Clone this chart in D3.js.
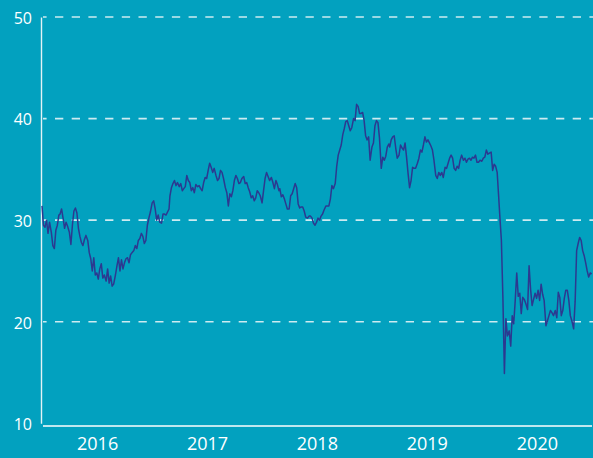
<!DOCTYPE html>
<html>
<head>
<meta charset="utf-8">
<script src="https://cdn.jsdelivr.net/npm/d3@7"></script>
<style>
  html, body { margin: 0; padding: 0; background: #02a1bf; }
  svg { display: block; }
</style>
</head>
<body>
<div id="chart"></div>
<script>
var sampleDays = [1, 6, 11, 16, 21, 26];

var prices2016 = [
  31.4,29.5,29.3,30.0,28.7,29.8, 28.8,27.5,27.2,29.0,29.5,30.5, 30.6,31.1,30.2,29.2,29.8,29.4,
  28.8,27.6,29.5,30.9,31.2,30.7, 29.2,28.4,27.8,27.5,28.1,28.5, 28.0,26.8,26.2,25.0,26.3,24.6,
  24.8,24.2,25.2,25.7,24.3,24.6, 24.0,25.2,23.8,24.5,23.5,23.7, 24.6,25.5,26.3,25.0,26.1,25.2,
  25.8,26.2,26.3,25.8,26.6,26.8, 27.0,27.5,27.2,28.0,28.2,28.7, 28.4,27.7,28.0,29.5,30.2,30.8
];
var prices2017 = [
  31.7,31.9,31.1,30.0,30.5,29.8, 29.7,30.6,30.6,30.5,30.8,31.1, 32.4,33.2,33.6,33.9,33.4,33.7,
  33.3,33.6,32.9,33.1,33.3,34.4, 33.9,33.7,32.9,33.2,32.7,33.5, 33.3,33.4,33.1,32.9,33.7,34.2,
  34.1,34.9,35.6,35.2,34.7,35.1, 34.4,33.9,34.1,34.9,34.7,34.1, 33.2,32.7,31.4,32.6,32.3,32.9,
  33.9,34.4,34.1,33.6,33.7,34.1, 34.3,33.6,33.7,33.2,32.8,32.2, 32.4,31.9,32.2,32.9,32.7,32.4
];
var prices2018 = [
  31.7,32.9,34.1,34.7,34.3,33.9, 34.2,33.7,33.1,33.9,33.5,32.9, 33.1,32.3,32.5,32.1,31.6,31.1,
  31.1,32.4,32.6,33.1,33.6,33.2, 31.6,31.2,31.3,31.3,30.9,30.3, 30.2,30.4,30.4,30.2,29.7,29.5,
  29.8,30.2,30.0,30.4,30.6,31.0, 31.4,31.4,31.4,32.1,33.4,33.1, 33.6,35.3,36.4,36.9,37.4,38.4,
  39.0,39.7,39.8,39.3,38.8,39.1, 40.0,39.8,41.4,41.2,40.5,40.5, 40.6,39.8,38.3,37.9,38.2,35.9
];
var prices2019 = [
  37.2,37.6,39.3,39.8,39.6,38.1, 35.1,36.2,35.9,36.3,37.2,37.5, 37.2,37.9,38.2,38.3,37.1,36.1,
  36.4,37.4,37.1,36.9,37.6,36.2, 34.6,33.2,33.9,35.2,35.1,35.1, 35.6,36.1,36.9,36.7,37.4,38.2,
  37.7,37.9,37.6,37.3,36.9,35.9, 34.4,34.1,34.7,34.4,34.7,34.2, 35.2,35.1,35.6,36.1,36.4,36.1,
  35.1,34.9,35.3,35.1,35.9,36.4, 35.9,36.1,35.7,36.0,36.1,35.9, 36.2,36.1,36.4,35.7,35.7,35.9
];
var prices2020 = [
  35.8,36.1,36.2,36.9,36.5,36.6, 36.7,34.9,35.5,35.3,34.7,32.3, 30.3,28.0,22.4,14.9,20.3,18.6,
  19.1,17.6,20.6,19.8,22.1,24.8, 22.5,22.8,20.8,22.4,22.2,21.8, 21.2,25.5,23.2,21.6,22.2,22.8,
  22.3,23.1,22.1,23.7,22.7,22.1, 19.6,20.1,20.6,21.1,20.9,20.6, 21.1,20.4,22.9,22.4,20.6,21.1,
  22.3,23.1,23.1,22.1,20.6,20.1, 19.3,22.0,27.0,27.7,28.3,28.0, 27.0,26.5,25.8,25.0,24.4,24.8
];
var lastDate = "2020-12-31";
var lastPrice = 24.7;

var yTicks = [10, 20, 30, 40, 50];
var gridValues = [20, 30, 40, 50];
var yearLabels = ["2016", "2017", "2018", "2019", "2020"];

var svgWidth = 593;
var svgHeight = 458;

var parseDate = d3.timeParse("%Y-%m-%d");

var data = [];
[[2016, prices2016], [2017, prices2017], [2018, prices2018], [2019, prices2019], [2020, prices2020]]
  .forEach(function(pair) {
    pair[1].forEach(function(v, i) {
      var month = Math.floor(i / sampleDays.length);
      var day = sampleDays[i % sampleDays.length];
      data.push({ date: new Date(pair[0], month, day), value: v });
    });
  });
data.push({ date: parseDate(lastDate), value: lastPrice });

var svg = d3.select("#chart")
  .append("svg")
  .attr("width", svgWidth)
  .attr("height", svgHeight);

svg.append("rect")
  .attr("width", svgWidth)
  .attr("height", svgHeight)
  .attr("fill", "#02a1bf");

var xScale = d3.scaleTime()
  .domain([parseDate("2016-01-01"), parseDate("2021-01-01")])
  .range([42, 592]);

var yScale = d3.scaleLinear()
  .domain([10, 50])
  .range([423.3, 17]);

// dashed grid
svg.append("g")
  .selectAll("line")
  .data(gridValues)
  .enter()
  .append("line")
  .attr("x1", 43)
  .attr("x2", svgWidth)
  .attr("y1", d => yScale(d))
  .attr("y2", d => yScale(d))
  .attr("stroke", "#cdebf1")
  .attr("stroke-width", 1.6)
  .attr("stroke-dasharray", "8.3,8.4")
  .attr("stroke-dashoffset", 4.7);

// y axis
var yAxis = svg.append("g")
  .attr("transform", "translate(41,0)")
  .call(d3.axisLeft(yScale).tickValues(yTicks).tickSize(0).tickPadding(9));
yAxis.select(".domain").attr("stroke", "#e4f3f6").attr("stroke-width", 1.4);
yAxis.selectAll("text")
  .attr("fill", "#ffffff")
  .attr("dy", "0.4em")
  .style("font-family", "'Open Sans', sans-serif")
  .style("font-size", "16px");

// x axis: year labels centred in each year
var midYears = yearLabels.map(y => parseDate(y + "-07-02"));
var xAxis = svg.append("g")
  .attr("transform", "translate(0,426)")
  .call(d3.axisBottom(xScale).tickValues(midYears).tickFormat(d3.timeFormat("%Y")).tickSize(0).tickPadding(11));
xAxis.select(".domain").remove();
xAxis.selectAll("text")
  .attr("fill", "#ffffff")
  .style("font-family", "'Open Sans', sans-serif")
  .style("font-size", "18px");

svg.append("line")
  .attr("x1", 43)
  .attr("x2", 592)
  .attr("y1", 426)
  .attr("y2", 426)
  .attr("stroke", "#ffffff")
  .attr("stroke-width", 1.5);

// price line
var line = d3.line()
  .x(d => xScale(d.date))
  .y(d => yScale(d.value));

svg.append("path")
  .datum(data)
  .attr("d", line)
  .attr("fill", "none")
  .attr("stroke", "#2c3990")
  .attr("stroke-width", 1.5)
  .attr("stroke-linejoin", "round");
</script>
</body>
</html>
